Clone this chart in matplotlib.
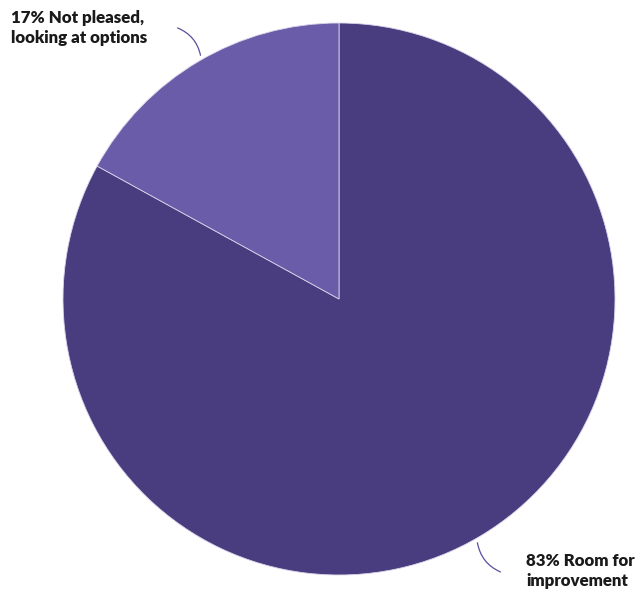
import matplotlib
matplotlib.use("Agg")
import matplotlib.pyplot as plt
import numpy as np

categories = ["Room for\nimprovement", "Not pleased,\nlooking at options"]
values = [83, 17]
colors = ["#4a3d7f", "#6a5ca8"]

W, H = 636, 590
fig = plt.figure(figsize=(W / 100, H / 100), dpi=100)
cx, cy, r = 339, 299, 276
ax = fig.add_axes([(cx - r) / W, (H - cy - r) / H, 2 * r / W, 2 * r / H])
wedges, _ = ax.pie(values, colors=colors, startangle=90, counterclock=False,
                   radius=1.0, wedgeprops=dict(edgecolor="#d8d4ea", linewidth=0.6))
ax.set_xlim(-1, 1)
ax.set_ylim(-1, 1)
ax.set_aspect("equal")
ax.axis("off")

plt.rcParams['font.family'] = ['Lato', 'DejaVu Sans']

def px(x, y):
    return (x / W, 1 - y / H)

label_cfg = [
    dict(text_xy=(526, 571), ha="left", lead=(503, 573), rad=-0.3),
    dict(text_xy=(11, 28), ha="left", lead=(175, 27), rad=-0.3),
]
edge_pts = [(477, 540), (201, 58)]

for i, (cat, v) in enumerate(zip(categories, values)):
    cfg = label_cfg[i]
    ex, ey = edge_pts[i]
    fig.text(*px(*cfg["text_xy"]), f"{v}% {cat}", ha=cfg["ha"], va="center",
             fontsize=12.2, fontweight="heavy", color="#1a1a1a", linespacing=1.25)
    ax.annotate("", xy=px(ex, ey), xycoords="figure fraction",
                xytext=px(*cfg["lead"]), textcoords="figure fraction",
                arrowprops=dict(arrowstyle="-", color="#5a4f9a", lw=0.9,
                                connectionstyle=f"arc3,rad={cfg['rad']}"))

fig.savefig("out.png", dpi=100)
